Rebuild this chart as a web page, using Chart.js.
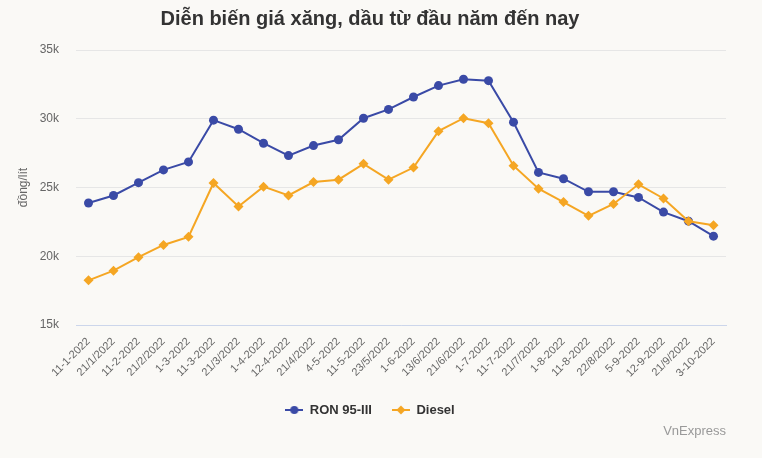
<!DOCTYPE html>
<html>
<head>
<meta charset="utf-8">
<script src="https://cdn.jsdelivr.net/npm/chart.js@4/dist/chart.umd.min.js"></script>
<style>
  html, body { margin: 0; padding: 0; background: #faf9f6; }
  #wrap { width: 762px; height: 458px; position: relative; }
</style>
</head>
<body>
<div id="wrap"><canvas id="c" width="762" height="458"></canvas></div>
<script>
const chartTitle = 'Diễn biến giá xăng, dầu từ đầu năm đến nay';
const yAxisTitle = 'đồng/lít';
const creditText = 'VnExpress';
const categories = ['11-1-2022','21/1/2022','11-2-2022','21/2/2022','1-3-2022','11-3-2022','21/3/2022','1-4-2022','12-4-2022','21/4/2022','4-5-2022','11-5-2022','23/5/2022','1-6-2022','13/6/2022','21/6/2022','1-7-2022','11-7-2022','21/7/2022','1-8-2022','11-8-2022','22/8/2022','5-9-2022','12-9-2022','21/9/2022','3-10-2022'];
const ron95 = [23870, 24420, 25350, 26280, 26860, 29900, 29240, 28220, 27320, 28050, 28470, 30040, 30680, 31580, 32410, 32870, 32770, 29750, 26100, 25640, 24690, 24690, 24280, 23210, 22550, 21460];
const diesel = [18250, 18950, 19930, 20820, 21410, 25330, 23620, 25060, 24420, 25400, 25570, 26720, 25570, 26450, 29100, 30040, 29680, 26590, 24910, 23940, 22940, 23800, 25230, 24200, 22550, 22260];
const seriesNames = ['RON 95-III', 'Diesel'];
const yTicks = [15000, 20000, 25000, 30000, 35000];

const colRon = '#3a4aa6';
const colDiesel = '#f5a623';
const FONT = '"Liberation Sans", Arial, sans-serif';

function legendIcon(color, style) {
  const c = document.createElement('canvas');
  c.width = 18; c.height = 12;
  const x = c.getContext('2d');
  x.strokeStyle = color; x.lineWidth = 2;
  x.beginPath(); x.moveTo(0, 6); x.lineTo(18, 6); x.stroke();
  x.fillStyle = color;
  x.beginPath();
  if (style === 'circle') { x.arc(9, 6, 4, 0, Math.PI * 2); }
  else { x.moveTo(9, 1.5); x.lineTo(13.5, 6); x.lineTo(9, 10.5); x.lineTo(4.5, 6); x.closePath(); }
  x.fill();
  return c;
}
const icons = [legendIcon(colRon, 'circle'), legendIcon(colDiesel, 'diamond')];

const bgPlugin = {
  id: 'bg',
  beforeDraw(chart) {
    const ctx = chart.ctx;
    ctx.save(); ctx.fillStyle = '#faf9f6'; ctx.fillRect(0, 0, chart.width, chart.height); ctx.restore();
  }
};
const creditPlugin = {
  id: 'credit',
  afterDraw(chart) {
    const ctx = chart.ctx;
    ctx.save();
    ctx.font = '13px ' + FONT;
    ctx.fillStyle = '#999999';
    ctx.textAlign = 'right';
    ctx.textBaseline = 'middle';
    ctx.fillText(creditText, 726, 431);
    ctx.restore();
  }
};

new Chart(document.getElementById('c'), {
  type: 'line',
  data: {
    labels: categories,
    datasets: [
      { label: seriesNames[0], data: ron95, borderColor: colRon, backgroundColor: colRon,
        borderWidth: 2, pointRadius: 4.5, pointHoverRadius: 4.5, pointStyle: 'circle',
        pointBorderWidth: 0, tension: 0, order: 1 },
      { label: seriesNames[1], data: diesel, borderColor: colDiesel, backgroundColor: colDiesel,
        borderWidth: 2, pointRadius: 5, pointHoverRadius: 5, pointStyle: 'rectRot',
        pointBorderWidth: 0, tension: 0, order: 0 }
    ]
  },
  options: {
    responsive: false,
    animation: false,
    devicePixelRatio: 1,
    layout: { padding: { left: 14, right: 36, top: 0, bottom: 31.5 } },
    plugins: {
      title: {
        display: true, text: chartTitle, color: '#333333',
        font: { family: FONT, size: 20, weight: 'bold', lineHeight: 1.2 },
        padding: { top: 7.5, bottom: 18.5 }
      },
      legend: {
        display: true, position: 'bottom',
        labels: {
          usePointStyle: true, pointStyleWidth: 18, boxHeight: 12,
          padding: 20, color: '#333333',
          font: { family: FONT, size: 13, weight: 'bold' },
          sort: (a, b) => a.datasetIndex - b.datasetIndex,
          generateLabels(chart) {
            const items = Chart.defaults.plugins.legend.labels.generateLabels(chart);
            items.forEach(it => { it.pointStyle = icons[it.datasetIndex]; });
            return items;
          }
        }
      },
      tooltip: { enabled: false }
    },
    scales: {
      x: {
        offset: true,
        grid: { display: false, drawTicks: false },
        border: { display: true, color: '#ccd6eb', width: 1 },
        ticks: {
          autoSkip: false, maxRotation: 45, minRotation: 45, padding: 10,
          color: '#666666', font: { family: FONT, size: 11 }
        },
        afterFit(axis) { axis.height = 58.5; }
      },
      y: {
        min: 15000, max: 35000,
        afterBuildTicks(axis) { axis.ticks = yTicks.map(v => ({ value: v })); },
        grid: { color: '#e6e6e6', lineWidth: 1, drawTicks: false },
        border: { display: false },
        ticks: {
          padding: 17, color: '#666666', font: { family: FONT, size: 12 },
          callback: v => (v / 1000) + 'k'
        },
        title: {
          display: true, text: yAxisTitle, color: '#666666',
          font: { family: FONT, size: 12 }, padding: { top: 2, bottom: 0 }
        },
        afterFit(axis) { axis.width = 62; }
      }
    }
  },
  plugins: [bgPlugin, creditPlugin]
});
</script>
</body>
</html>
